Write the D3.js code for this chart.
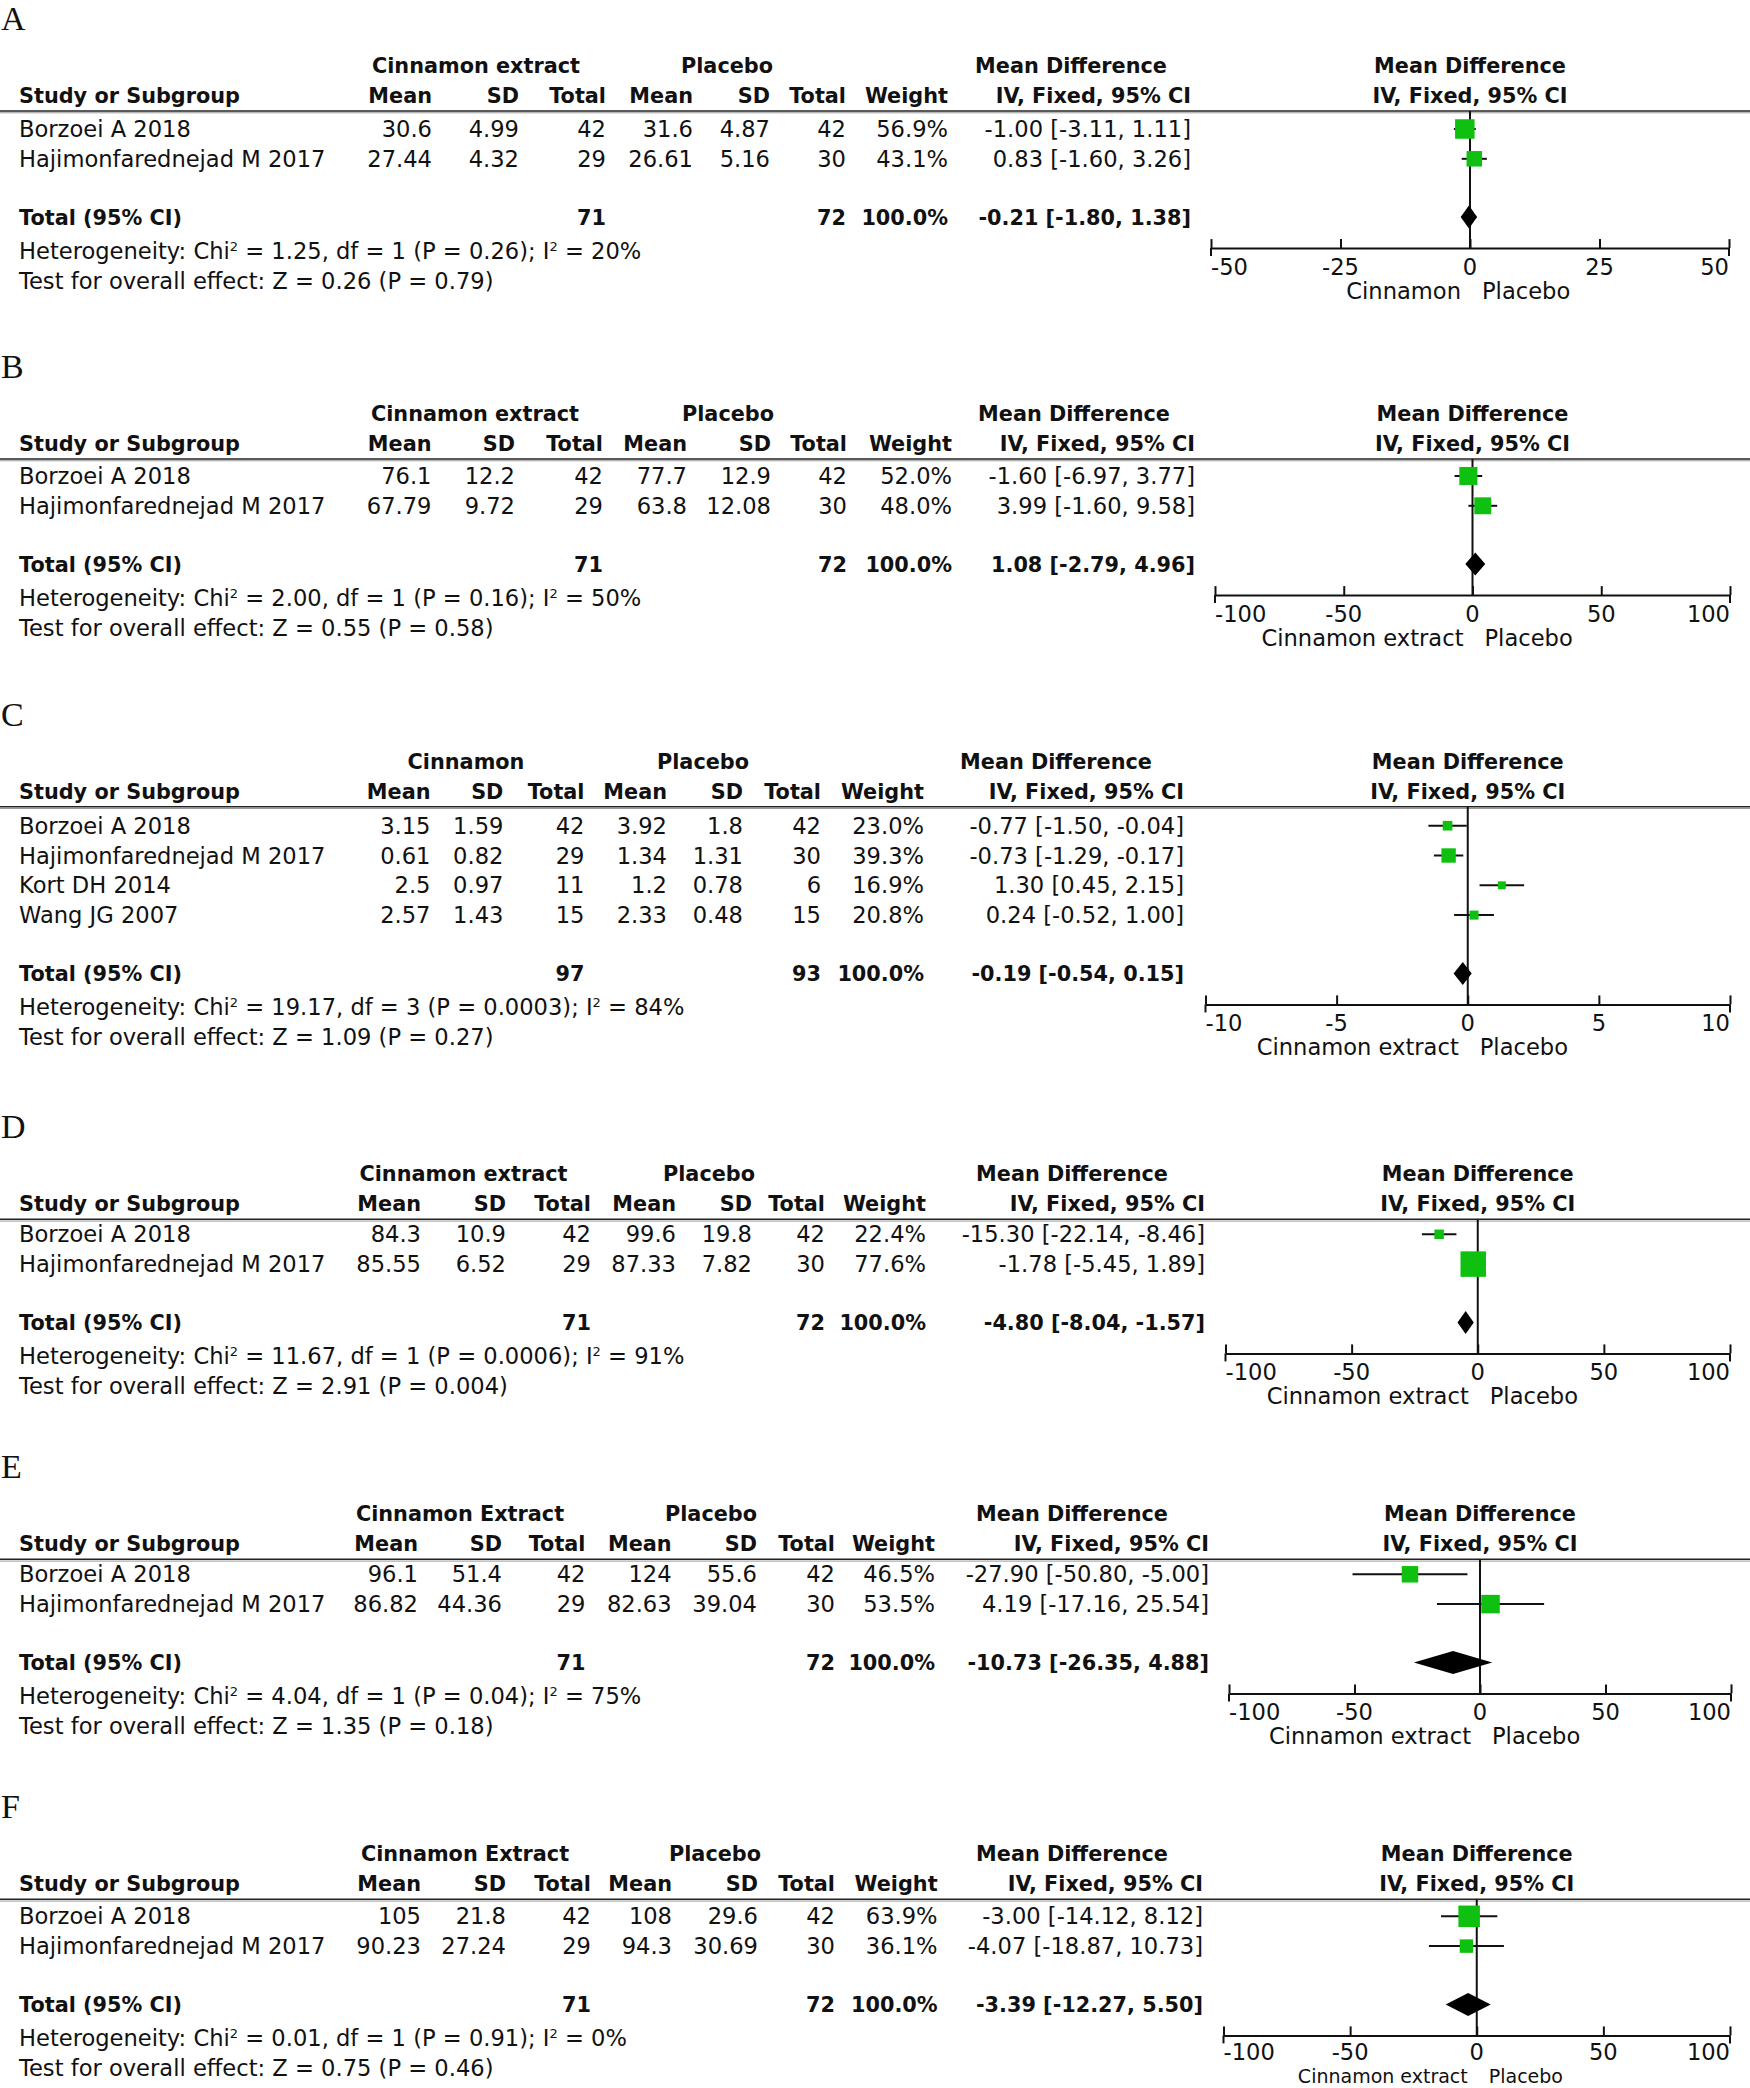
<!DOCTYPE html>
<html><head><meta charset="utf-8">
<script src="https://cdn.jsdelivr.net/npm/d3@7"></script>
<style>
html,body{margin:0;padding:0;background:#fff;}
svg{display:block;background:#fff;}
text{font-family:"DejaVu Sans",sans-serif;fill:#111;}
</style></head><body><svg id="chart" width="1750" height="2088"></svg>
<script>
// ---------------- DATA ----------------
const panelLetters = ["A","B","C","D","E","F"];
const expGroupLabels = ["Cinnamon extract","Cinnamon extract","Cinnamon","Cinnamon extract","Cinnamon Extract","Cinnamon Extract"];
const ctrlGroupLabel = "Placebo";
const axisLeftLabels = ["Cinnamon","Cinnamon extract","Cinnamon extract","Cinnamon extract","Cinnamon extract","Cinnamon extract"];
const axisRightLabel = "Placebo";
const axisTicks = [[-50,-25,0,25,50],[-100,-50,0,50,100],[-10,-5,0,5,10],[-100,-50,0,50,100],[-100,-50,0,50,100],[-100,-50,0,50,100]];
const columnHeaders = ["Mean","SD","Total","Mean","SD","Total","Weight","IV, Fixed, 95% CI"];

// study, exp mean, exp SD, exp N, ctrl mean, ctrl SD, ctrl N, weight %, MD, lower, upper
const rowsA = [
  ["Borzoei A 2018","30.6","4.99",42,"31.6","4.87",42,56.9,-1.00,-3.11,1.11],
  ["Hajimonfarednejad M 2017","27.44","4.32",29,"26.61","5.16",30,43.1,0.83,-1.60,3.26]
];
const rowsB = [
  ["Borzoei A 2018","76.1","12.2",42,"77.7","12.9",42,52.0,-1.60,-6.97,3.77],
  ["Hajimonfarednejad M 2017","67.79","9.72",29,"63.8","12.08",30,48.0,3.99,-1.60,9.58]
];
const rowsC = [
  ["Borzoei A 2018","3.15","1.59",42,"3.92","1.8",42,23.0,-0.77,-1.50,-0.04],
  ["Hajimonfarednejad M 2017","0.61","0.82",29,"1.34","1.31",30,39.3,-0.73,-1.29,-0.17],
  ["Kort DH 2014","2.5","0.97",11,"1.2","0.78",6,16.9,1.30,0.45,2.15],
  ["Wang JG 2007","2.57","1.43",15,"2.33","0.48",15,20.8,0.24,-0.52,1.00]
];
const rowsD = [
  ["Borzoei A 2018","84.3","10.9",42,"99.6","19.8",42,22.4,-15.30,-22.14,-8.46],
  ["Hajimonfarednejad M 2017","85.55","6.52",29,"87.33","7.82",30,77.6,-1.78,-5.45,1.89]
];
const rowsE = [
  ["Borzoei A 2018","96.1","51.4",42,"124","55.6",42,46.5,-27.90,-50.80,-5.00],
  ["Hajimonfarednejad M 2017","86.82","44.36",29,"82.63","39.04",30,53.5,4.19,-17.16,25.54]
];
const rowsF = [
  ["Borzoei A 2018","105","21.8",42,"108","29.6",42,63.9,-3.00,-14.12,8.12],
  ["Hajimonfarednejad M 2017","90.23","27.24",29,"94.3","30.69",30,36.1,-4.07,-18.87,10.73]
];

// exp N, ctrl N, weight, MD, lower, upper
const totalsA = [71,72,100.0,-0.21,-1.80,1.38];
const totalsB = [71,72,100.0,1.08,-2.79,4.96];
const totalsC = [97,93,100.0,-0.19,-0.54,0.15];
const totalsD = [71,72,100.0,-4.80,-8.04,-1.57];
const totalsE = [71,72,100.0,-10.73,-26.35,4.88];
const totalsF = [71,72,100.0,-3.39,-12.27,5.50];

// heterogeneity: Chi2, df, P, I2(%)
const hetA = ["1.25","1","0.26","20"];
const hetB = ["2.00","1","0.16","50"];
const hetC = ["19.17","3","0.0003","84"];
const hetD = ["11.67","1","0.0006","91"];
const hetE = ["4.04","1","0.04","75"];
const hetF = ["0.01","1","0.91","0"];

// overall effect: Z, P
const effA = ["0.26","0.79"];
const effB = ["0.55","0.58"];
const effC = ["1.09","0.27"];
const effD = ["2.91","0.004"];
const effE = ["1.35","0.18"];
const effF = ["0.75","0.46"];

const allRows = [rowsA,rowsB,rowsC,rowsD,rowsE,rowsF];
const allTotals = [totalsA,totalsB,totalsC,totalsD,totalsE,totalsF];
const allHet = [hetA,hetB,hetC,hetD,hetE,hetF];
const allEff = [effA,effB,effC,effD,effE,effF];

// ---------------- LAYOUT ----------------
const layout = [
  {line:111,   rowStart:18, cols:[432,519,606,693,770,846,948,1191],       gC:476, gP:727, md:1071, x0:1211,   x1:1729},
  {line:459,   rowStart:17, cols:[431.5,515,603,687,771,847,952,1195],     gC:475, gP:728, md:1074, x0:1215,   x1:1730},
  {line:806.7, rowStart:19, cols:[430.5,503.4,584.5,667,743,821,924,1184], gC:466, gP:703, md:1056, x0:1205.5, x1:1730},
  {line:1219.3,rowStart:15, cols:[421,506,591,676,752,825,926,1205],       gC:463.5,gP:709, md:1072, x0:1225.5, x1:1730},
  {line:1559.3,rowStart:15, cols:[418,502,585.5,671.6,757,835,935,1209],   gC:460, gP:711, md:1072, x0:1229,   x1:1731},
  {line:1899.3,rowStart:17, cols:[421,506,591,672,758,835,937.6,1203],     gC:465, gP:715, md:1072, x0:1223.5, x1:1730}
];
const FS = 22.6, FSB = 20.8, BL = 8; // font sizes, baseline offset from visual centre
const PITCH = 29.8, TOTAL_GAP = 58.3, AXIS_GAP = 31, HET_GAP = 34, TEST_GAP = 30;
const GREEN = "#10c010";
const H = 2088;

const svg = d3.select("#chart");
const sizeScale = d3.scaleLinear().domain([0,100]).range([3,32]);
const fmt2 = d3.format(".2f");
const fmtMD = v => fmt2(v).replace("−","-");
const ciText = (m,l,h) => `${fmtMD(m)} [${fmtMD(l)}, ${fmtMD(h)}]`;

function txt(g, x, y, s, opts={}) {
  return g.append("text").attr("x", x).attr("y", y + BL)
    .attr("text-anchor", opts.anchor || "start")
    .attr("font-size", opts.bold ? FSB : FS)
    .attr("font-weight", opts.bold ? "bold" : "normal")
    .text(s);
}

panelLetters.forEach((letter, i) => {
  const L = layout[i];
  const rows = allRows[i], tot = allTotals[i], het = allHet[i], eff = allEff[i];
  const ticks = axisTicks[i];
  const g = svg.append("g");
  const x = d3.scaleLinear().domain(d3.extent(ticks)).range([L.x0, L.x1]);
  const zx = x(0), pc = (L.x0 + L.x1) / 2;

  // letter
  g.append("text").attr("x", 1).attr("y", L.line - 81)
    .style("font-family", "'Liberation Serif','Times New Roman',serif")
    .attr("font-size", 34).text(letter);

  // group headers
  const gy = L.line - 46, cy = L.line - 16;
  txt(g, L.gC, gy, expGroupLabels[i], {bold:true, anchor:"middle"});
  txt(g, L.gP, gy, ctrlGroupLabel, {bold:true, anchor:"middle"});
  txt(g, L.md, gy, "Mean Difference", {bold:true, anchor:"middle"});
  txt(g, pc, gy, "Mean Difference", {bold:true, anchor:"middle"});

  // column headers
  txt(g, 19, cy, "Study or Subgroup", {bold:true});
  columnHeaders.forEach((h, k) => txt(g, L.cols[k], cy, h, {bold:true, anchor:"end"}));
  txt(g, pc, cy, "IV, Fixed, 95% CI", {bold:true, anchor:"middle"});

  // header rule
  g.append("line").attr("x1", 0).attr("x2", 1750).attr("y1", L.line).attr("y2", L.line)
    .attr("stroke", "#222").attr("stroke-width", 1.6);
  g.append("line").attr("x1", 0).attr("x2", 1750).attr("y1", L.line + 1.8).attr("y2", L.line + 1.8)
    .attr("stroke", "#999").attr("stroke-width", 1);

  const rowY = k => L.line + L.rowStart + k * PITCH;
  const totalY = rowY(rows.length - 1) + TOTAL_GAP;
  const axisY = totalY + AXIS_GAP;

  // zero line
  g.append("line").attr("x1", zx).attr("x2", zx).attr("y1", L.line).attr("y2", axisY)
    .attr("stroke", "#111").attr("stroke-width", 2);

  // study rows
  rows.forEach((r, k) => {
    const y = rowY(k);
    txt(g, 19, y, r[0]);
    const vals = [r[1], r[2], r[3], r[4], r[5], r[6], d3.format(".1f")(r[7]) + "%", ciText(r[8], r[9], r[10])];
    vals.forEach((v, c) => txt(g, L.cols[c], y, v, {anchor:"end"}));
    g.append("line").attr("x1", x(r[9])).attr("x2", x(r[10])).attr("y1", y).attr("y2", y)
      .attr("stroke", "#111").attr("stroke-width", 2);
    const s = sizeScale(r[7]);
    g.append("rect").attr("x", x(r[8]) - s / 2).attr("y", y - s / 2)
      .attr("width", s).attr("height", s).attr("fill", GREEN);
  });

  // total row
  txt(g, 19, totalY, "Total (95% CI)", {bold:true});
  txt(g, L.cols[2], totalY, String(tot[0]), {bold:true, anchor:"end"});
  txt(g, L.cols[5], totalY, String(tot[1]), {bold:true, anchor:"end"});
  txt(g, L.cols[6], totalY, d3.format(".1f")(tot[2]) + "%", {bold:true, anchor:"end"});
  txt(g, L.cols[7], totalY, ciText(tot[3], tot[4], tot[5]), {bold:true, anchor:"end"});
  const dh = 11.5;
  g.append("path")
    .attr("d", `M${x(tot[4])},${totalY} L${x(tot[3])},${totalY - dh} L${x(tot[5])},${totalY} L${x(tot[3])},${totalY + dh} Z`)
    .attr("fill", "#000");

  // heterogeneity & overall effect
  const hy = totalY + HET_GAP;
  const ht = g.append("text").attr("x", 19).attr("y", hy + BL).attr("font-size", FS);
  ht.append("tspan").text("Heterogeneity: Chi");
  ht.append("tspan").attr("dy", -8).attr("font-size", 13).text("2");
  ht.append("tspan").attr("dy", 8).text(` = ${het[0]}, df = ${het[1]} (P = ${het[2]}); I`);
  ht.append("tspan").attr("dy", -8).attr("font-size", 13).text("2");
  ht.append("tspan").attr("dy", 8).text(` = ${het[3]}%`);
  txt(g, 19, hy + TEST_GAP, `Test for overall effect: Z = ${eff[0]} (P = ${eff[1]})`);

  // axis
  const ax = g.append("g").attr("transform", `translate(0,${axisY})`)
    .call(d3.axisTop(x).tickValues(ticks).tickSize(9).tickSizeOuter(0).tickFormat(""));
  ax.select(".domain").attr("stroke", "#111").attr("stroke-width", 2);
  ax.selectAll(".tick line").attr("stroke", "#111").attr("stroke-width", 2);
  [ticks[0], ticks[ticks.length - 1]].forEach(t => {
    g.append("line").attr("x1", x(t)).attr("x2", x(t)).attr("y1", axisY).attr("y2", axisY + 8)
      .attr("stroke", "#111").attr("stroke-width", 2);
  });
  // the last panel's captions sit at the very bottom edge: fit them in
  const tight = axisY + 42.5 + BL + 6 > H;
  const tickOff = tight ? 17 : 18.5;
  ticks.forEach((t, k) => {
    const anchor = k === 0 ? "start" : (k === ticks.length - 1 ? "end" : "middle");
    txt(g, x(t), axisY + tickOff, String(t), {anchor});
  });
  if (!tight) {
    txt(g, zx - 9, axisY + 42.5, axisLeftLabels[i], {anchor:"end"});
    txt(g, zx + 12, axisY + 42.5, axisRightLabel, {anchor:"start"});
  } else {
    const capFs = 19, capBase = H - 0.24 * capFs - 0.3;
    g.append("text").attr("x", zx - 9).attr("y", capBase).attr("text-anchor", "end")
      .attr("font-size", capFs).text(axisLeftLabels[i]);
    g.append("text").attr("x", zx + 12).attr("y", capBase).attr("text-anchor", "start")
      .attr("font-size", capFs).text(axisRightLabel);
  }
});
</script></body></html>
